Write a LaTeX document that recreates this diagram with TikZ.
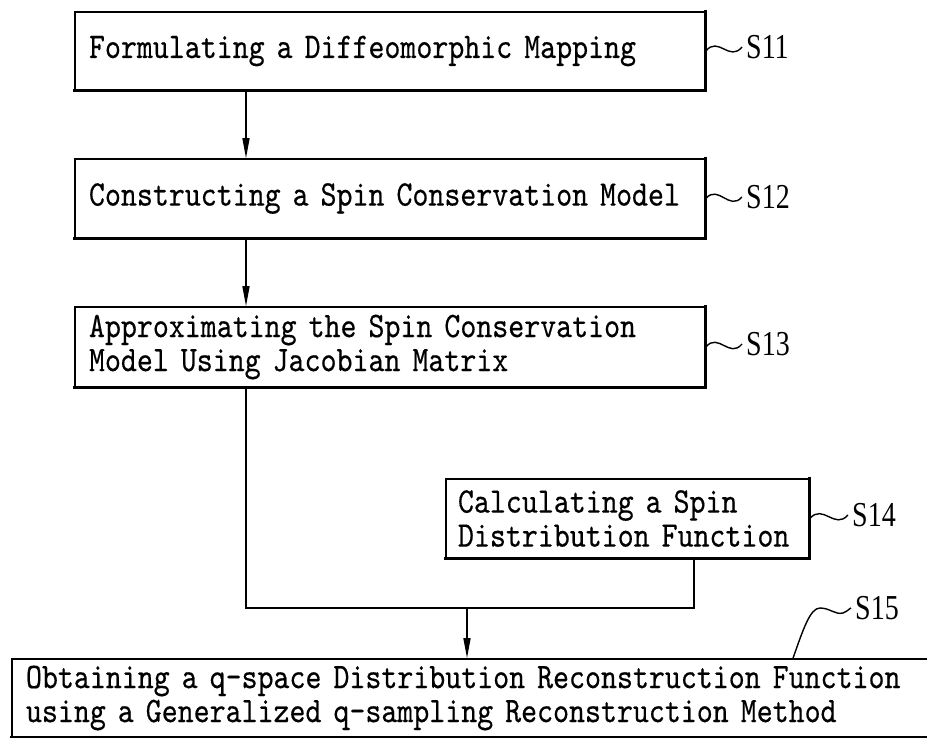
\documentclass[tikz,border=0pt]{standalone}
\usepackage{fontspec}
\newfontfamily\boxfont{lmmono10-regular.otf}[FakeStretch=0.845,FakeBold=0.4]
\newfontfamily\labfont{Liberation Serif}[FakeStretch=0.8]
\usetikzlibrary{arrows.meta,calc}
\newcommand\oneline[1]{\mbox{#1}}
\newcommand\tildelink[2]{\draw[conn] (#1) .. controls ($(#1)!0.35!(#2)+(0,-14)$) and ($(#1)!0.65!(#2)+(0,14)$) .. (#2);}
\begin{document}
\begin{tikzpicture}[x=1pt,y=-1pt,
  stepbox/.style={draw=black, line width=1.6pt, rectangle, inner xsep=14pt, inner ysep=0pt,
    align=left, font={\boxfont\fontsize{36pt}{34pt}\selectfont}},
  lab/.style={anchor=west, inner xsep=4pt, inner ysep=0pt, font={\labfont\fontsize{35pt}{35pt}\selectfont}},
  conn/.style={line width=1.4pt},
  arr/.style={conn, -{Triangle[length=20pt,width=7pt]}},
  heavy/.style={line width=3.2pt, line cap=rect}]
\useasboundingbox (0,0) rectangle (927,738);

\node[stepbox, text width=602pt, minimum height=78pt] (S11) at (390,51)
  {\oneline{Formulating a Diffeomorphic Mapping}};
\node[stepbox, text width=602pt, minimum height=79pt] (S12) at (390,198.5)
  {\oneline{Constructing a Spin Conservation Model}};
\node[stepbox, text width=602pt, minimum height=80pt] (S13) at (390,347)
  {\oneline{Approximating the Spin Conservation}\\\oneline{Model Using Jacobian Matrix}};
\node[stepbox, inner xsep=12pt, text width=339pt, minimum height=79pt] (S14) at (627.5,518.5)
  {\oneline{Calculating a Spin}\\\oneline{Distribution Function}};
\node[stepbox, inner xsep=14pt, text width=889pt, minimum height=78pt] (S15) at (470.5,698)
  {\oneline{Obtaining a q-space Distribution Reconstruction Function}\\\oneline{using a Generalized q-sampling Reconstruction Method}};

\foreach \n in {S11,S12,S13,S14,S15}
  \draw[heavy] (\n.north east) -- (\n.south east) -- (\n.south west);

\node[lab] (L11) at (742,47) {S11};
\node[lab] (L12) at (742,197) {S12};
\node[lab] (L13) at (742,344) {S13};
\node[lab] (L14) at (848,515) {S14};
\node[lab] (L15) at (851,608) {S15};

\tildelink{S11.east}{L11.west}
\tildelink{S12.east}{L12.west}
\tildelink{S13.east}{L13.west}
\tildelink{S14.east}{L14.west}

\coordinate (ax) at (246,0);
\coordinate (jl) at (246,608);
\coordinate (jr) at (694,608);
\coordinate (jm) at (467,608);
\coordinate (s15a) at (793,0);

\draw[arr] (S11.south -| ax) -- (S12.north -| ax);
\draw[arr] (S12.south -| ax) -- (S13.north -| ax);
\draw[conn] (S13.south -| ax) -- (jl) -- (jr) -- (S14.south -| jr);
\draw[arr] (jm) -- (S15.north -| jm);
\draw[conn] (S15.north -| s15a) .. controls (803,630) and (810,608) .. (820,608)
  .. controls (830,608) and (835,615) .. (843,613)
  .. controls (848,611) and (850,608) .. (L15.west);
\end{tikzpicture}
\end{document}
